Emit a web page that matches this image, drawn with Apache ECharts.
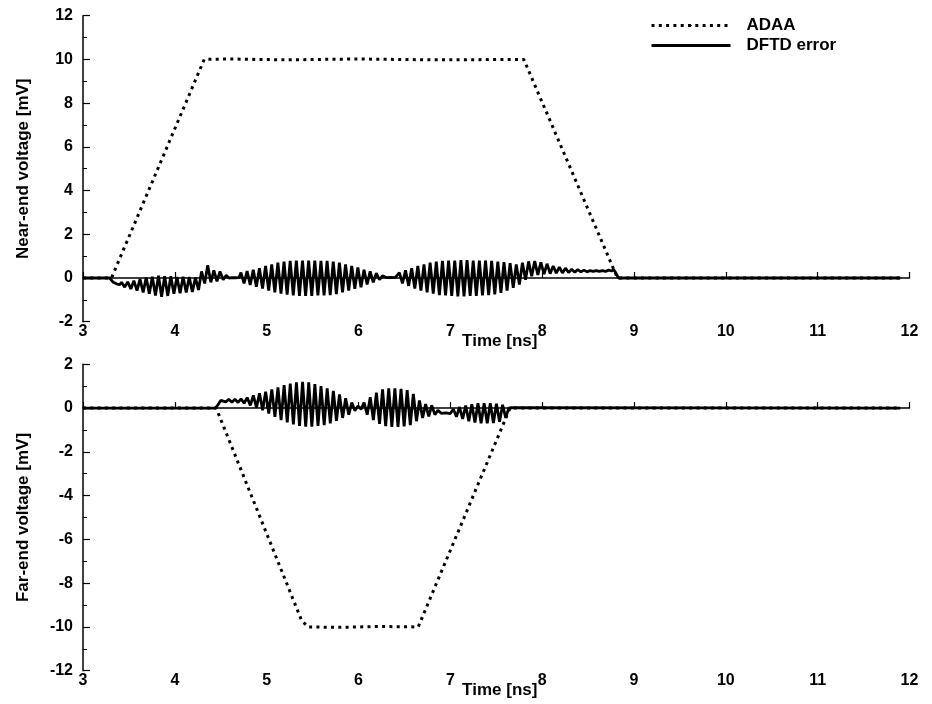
<!DOCTYPE html>
<html>
<head>
<meta charset="utf-8">
<script src="https://cdn.jsdelivr.net/npm/echarts@6/dist/echarts.min.js"></script>
<style>html,body{margin:0;padding:0;background:#fff}#c{width:932px;height:704px}</style>
</head>
<body>
<div id="c"></div>
<script>
// ---------- data ----------
const seriesNames = ['ADAA', 'DFTD error'];
const xTitle = 'Time [ns]';
const yTitleTop = 'Near-end voltage [mV]';
const yTitleBottom = 'Far-end voltage [mV]';

// Near-end ADAA [time ns, mV]
const nearADAA = [[3.0,0],[3.31,0],[4.32,10],[4.6,10.02],[5.2,9.98],[6.0,10.02],[6.8,9.98],[7.8,10],[8.82,0],[11.9,0]];

// Near-end DFTD error [time ns, mV]
const nearErr = [
[3.0,0],[3.29,0],[3.31,-0.05],[3.33,-0.2],[3.37,-0.28],[3.40,-0.30],
[3.420,-0.20],[3.454,-0.42],[3.487,-0.18],[3.521,-0.50],[3.554,-0.12],[3.588,-0.58],
[3.621,-0.05],[3.655,-0.66],[3.688,0.02],[3.722,-0.72],[3.755,0.06],[3.789,-0.80],
[3.822,0.10],[3.856,-0.86],[3.889,0.08],[3.923,-0.82],[3.956,0.08],[3.990,-0.72],
[4.023,0.05],[4.057,-0.70],[4.090,0.06],[4.124,-0.66],[4.157,0.04],[4.191,-0.64],
[4.224,0.02],[4.258,-0.55],[4.291,0.30],[4.325,-0.25],[4.358,0.58],[4.392,-0.20],
[4.425,0.35],[4.459,-0.15],[4.492,0.30],[4.526,-0.08],[4.559,0.12],
[4.59,0.0],[4.63,0.02],[4.67,0.01],[4.70,0.03],
[4.720,0.25],[4.754,-0.25],[4.787,0.32],[4.821,-0.32],[4.854,0.38],[4.888,-0.40],
[4.921,0.45],[4.955,-0.48],[4.988,0.55],[5.022,-0.58],[5.055,0.62],[5.089,-0.66],
[5.122,0.70],[5.156,-0.72],[5.189,0.75],[5.223,-0.76],[5.256,0.78],[5.290,-0.80],
[5.323,0.80],[5.357,-0.82],[5.390,0.80],[5.424,-0.82],[5.457,0.80],[5.491,-0.82],
[5.524,0.80],[5.558,-0.80],[5.591,0.78],[5.625,-0.80],[5.658,0.78],[5.692,-0.78],
[5.725,0.75],[5.759,-0.74],[5.792,0.70],[5.826,-0.66],[5.859,0.62],[5.893,-0.58],
[5.926,0.55],[5.960,-0.50],[5.993,0.48],[6.027,-0.42],[6.060,0.38],[6.094,-0.30],
[6.127,0.30],[6.161,-0.20],[6.194,0.22],[6.228,-0.08],[6.261,0.10],
[6.30,0.02],[6.35,0.03],[6.40,0.02],
[6.445,0.25],[6.479,-0.25],[6.512,0.35],[6.546,-0.36],[6.579,0.45],[6.613,-0.48],
[6.646,0.55],[6.680,-0.58],[6.713,0.62],[6.747,-0.66],[6.780,0.70],[6.814,-0.72],
[6.847,0.75],[6.881,-0.78],[6.914,0.78],[6.948,-0.80],[6.981,0.80],[7.015,-0.82],
[7.048,0.80],[7.082,-0.84],[7.115,0.82],[7.149,-0.84],[7.182,0.82],[7.216,-0.82],
[7.249,0.80],[7.283,-0.82],[7.316,0.80],[7.350,-0.80],[7.383,0.80],[7.417,-0.78],
[7.450,0.78],[7.484,-0.75],[7.517,0.75],[7.551,-0.68],[7.584,0.72],[7.618,-0.58],
[7.651,0.68],[7.685,-0.45],[7.718,0.62],[7.752,-0.30],[7.785,0.70],[7.819,-0.08],
[7.852,0.76],[7.886,0.08],[7.919,0.78],[7.953,0.14],[7.986,0.72],[8.020,0.18],
[8.053,0.65],[8.087,0.20],[8.120,0.55],[8.154,0.22],[8.187,0.50],[8.221,0.23],
[8.254,0.45],[8.288,0.25],[8.321,0.40],[8.355,0.26],[8.388,0.38],[8.422,0.28],
[8.455,0.36],[8.489,0.28],[8.522,0.34],[8.556,0.30],[8.589,0.34],[8.623,0.30],
[8.656,0.34],[8.690,0.30],[8.723,0.36],[8.757,0.32],[8.78,0.38],[8.80,0.25],
[8.83,0.0],[11.9,0]
];

// Far-end ADAA [time ns, mV]
const farADAA = [[3.0,0],[4.45,0],[5.38,-9.7],[5.45,-10],[5.8,-10.02],[6.2,-9.98],[6.65,-10],[7.65,0],[11.9,0]];

// Far-end DFTD error [time ns, mV]
const farErr = [
[3.0,0],[4.44,0],[4.47,0.15],[4.50,0.35],
[4.520,0.40],[4.554,0.28],[4.587,0.40],[4.621,0.27],[4.654,0.40],[4.688,0.26],
[4.721,0.42],[4.755,0.22],[4.788,0.48],[4.822,0.12],[4.855,0.58],[4.889,0.02],
[4.922,0.68],[4.956,-0.10],[4.989,0.75],[5.023,-0.25],[5.056,0.85],[5.090,-0.40],
[5.123,0.95],[5.157,-0.55],[5.190,1.05],[5.224,-0.65],[5.257,1.12],[5.291,-0.75],
[5.324,1.18],[5.358,-0.82],[5.391,1.20],[5.425,-0.85],[5.458,1.18],[5.492,-0.85],
[5.525,1.10],[5.559,-0.82],[5.592,1.00],[5.626,-0.78],[5.659,0.90],[5.693,-0.70],
[5.726,0.78],[5.760,-0.58],[5.793,0.62],[5.827,-0.45],[5.860,0.45],[5.894,-0.30],
[5.927,0.25],[5.961,-0.12],[5.994,0.10],[6.028,-0.05],
[6.061,0.25],[6.095,-0.30],[6.128,0.50],[6.162,-0.55],[6.195,0.70],[6.229,-0.72],
[6.262,0.85],[6.296,-0.82],[6.329,0.90],[6.363,-0.86],[6.396,0.90],[6.430,-0.86],
[6.463,0.88],[6.497,-0.84],[6.530,0.82],[6.564,-0.78],[6.597,0.65],[6.631,-0.60],
[6.664,0.35],[6.698,-0.45],[6.731,0.18],[6.765,-0.38],[6.798,0.12],[6.832,-0.30],
[6.865,-0.10],[6.90,-0.24],[6.95,-0.22],[7.00,-0.25],
[7.033,-0.05],[7.067,-0.40],[7.100,0.05],[7.134,-0.50],[7.167,0.12],[7.201,-0.60],
[7.234,0.18],[7.268,-0.66],[7.301,0.22],[7.335,-0.70],[7.368,0.22],[7.402,-0.70],
[7.435,0.22],[7.469,-0.68],[7.502,0.20],[7.536,-0.62],[7.569,0.15],[7.603,-0.45],
[7.636,0.0],[7.66,0.02],[11.9,0]
];

const xMin = 3, xMax = 12, xStep = 1;
const yTopMin = -2, yTopMax = 12;
const yBotMin = -12, yBotMax = 2;
const yStep = 2;

// ---------- chart ----------
const FONT = 'Liberation Sans, Arial, Helvetica, sans-serif';
const chart = echarts.init(document.getElementById('c'), null, {renderer: 'canvas'});

function xAxisCfg(gi) {
  return {
    gridIndex: gi, type: 'value', min: xMin, max: xMax, interval: xStep,
    name: xTitle, nameLocation: 'middle', nameGap: 11, nameMoveOverlap: false,
    nameTextStyle: {color: '#000', fontSize: 17, fontWeight: 'bold', fontFamily: FONT, padding: [0, 0, 0, 7]},
    axisLine: {show: true, lineStyle: {color: '#000', width: 1.5}},
    axisTick: {show: true, inside: true, length: 6, lineStyle: {color: '#000', width: 1.2}},
    axisLabel: {color: '#000', fontSize: 16, fontWeight: 'bold', fontFamily: FONT, margin: 2},
    splitLine: {show: false}
  };
}
function yAxisCfg(gi, mn, mx, title) {
  return {
    gridIndex: gi, type: 'value', min: mn, max: mx, interval: yStep,
    name: title, nameLocation: 'middle', nameGap: 51, nameRotate: 90,
    nameTextStyle: {color: '#000', fontSize: 17, fontWeight: 'bold', fontFamily: FONT},
    axisLine: {show: true, onZero: false, lineStyle: {color: '#000', width: 1.5}},
    axisTick: {show: true, inside: true, length: 7, lineStyle: {color: '#000', width: 1.2}},
    minorTick: {show: true, splitNumber: 2, length: 4, lineStyle: {color: '#000', width: 1}},
    axisLabel: {color: '#000', fontSize: 16, fontWeight: 'bold', fontFamily: FONT, margin: 10},
    splitLine: {show: false}, minorSplitLine: {show: false}
  };
}
const dotted = {color: '#000', width: 3, type: [3, 4.3]};
const solid = {color: '#000', width: 2.8};

chart.setOption({
  animation: false,
  backgroundColor: '#fff',
  grid: [
    {left: 83, right: 22.5, top: 15.7, height: 306, containLabel: false},
    {left: 83, right: 22.5, top: 364.3, height: 306.4, containLabel: false}
  ],
  legend: {
    data: seriesNames, orient: 'vertical', left: 645, top: 12,
    itemWidth: 79, itemHeight: 2, itemGap: 3,
    lineStyle: {width: 3},
    textStyle: {color: '#000', fontSize: 17, fontWeight: 'bold', fontFamily: FONT, padding: [0, 0, 0, 11]},
    selectedMode: false
  },
  xAxis: [xAxisCfg(0), xAxisCfg(1)],
  yAxis: [yAxisCfg(0, yTopMin, yTopMax, yTitleTop), yAxisCfg(1, yBotMin, yBotMax, yTitleBottom)],
  series: [
    {name: seriesNames[0], type: 'line', xAxisIndex: 0, yAxisIndex: 0, data: nearADAA, symbol: 'none', lineStyle: dotted, itemStyle: {color: '#000'}, z: 2},
    {name: seriesNames[1], type: 'line', xAxisIndex: 0, yAxisIndex: 0, data: nearErr, symbol: 'none', lineStyle: solid, itemStyle: {color: '#000'}, z: 3},
    {name: seriesNames[0], type: 'line', xAxisIndex: 1, yAxisIndex: 1, data: farADAA, symbol: 'none', lineStyle: dotted, itemStyle: {color: '#000'}, z: 2},
    {name: seriesNames[1], type: 'line', xAxisIndex: 1, yAxisIndex: 1, data: farErr, symbol: 'none', lineStyle: solid, itemStyle: {color: '#000'}, z: 3}
  ]
});
</script>
</body>
</html>
